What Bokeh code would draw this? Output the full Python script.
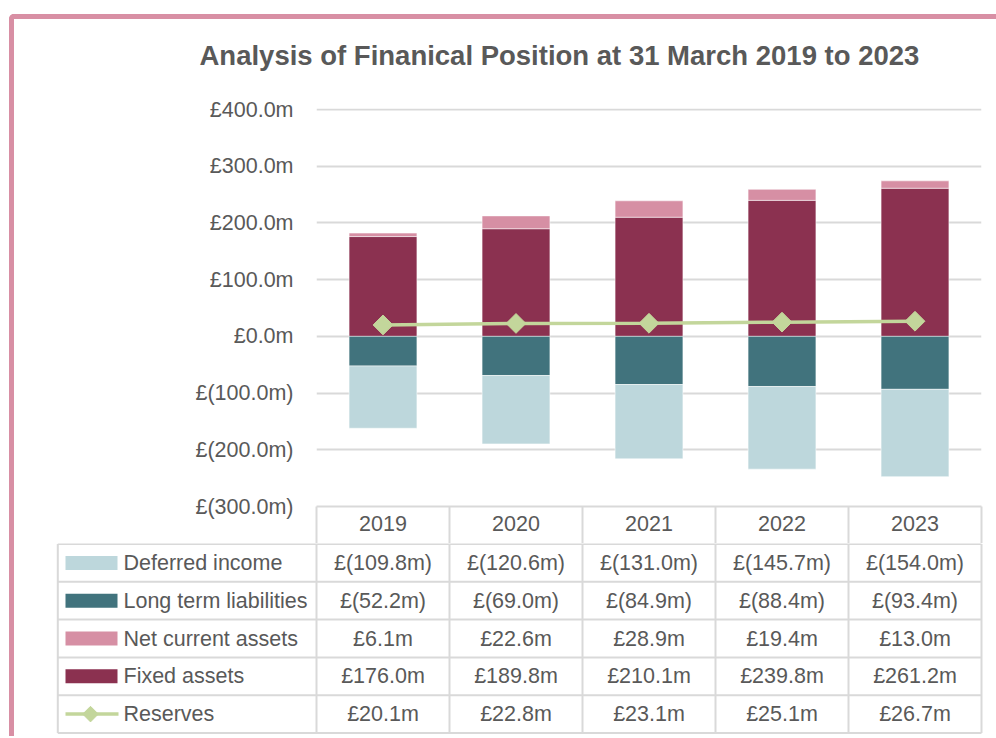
import math
from bokeh.plotting import figure
from bokeh.layouts import column
from bokeh.models import Range1d, FixedTicker
from bokeh.embed import file_html
from bokeh.resources import INLINE
from bokeh.core.properties import value

# ---------------- data ----------------
years = ["2019", "2020", "2021", "2022", "2023"]
deferred_income = [-109.8, -120.6, -131.0, -145.7, -154.0]
long_term_liabilities = [-52.2, -69.0, -84.9, -88.4, -93.4]
net_current_assets = [6.1, 22.6, 28.9, 19.4, 13.0]
fixed_assets = [176.0, 189.8, 210.1, 239.8, 261.2]
reserves = [20.1, 22.8, 23.1, 25.1, 26.7]

y_ticks = [-300, -200, -100, 0, 100, 200, 300, 400]
y_tick_labels = ["£(300.0m)", "£(200.0m)", "£(100.0m)", "£0.0m",
                 "£100.0m", "£200.0m", "£300.0m", "£400.0m"]
series_names = ["Deferred income", "Long term liabilities",
                "Net current assets", "Fixed assets", "Reserves"]
title_text = "Analysis of Finanical Position at 31 March 2019 to 2023"

# ---------------- styles ----------------
FONT = "Liberation Sans"
TXT = "#595959"
GRID = "#D9D9D9"
C_DEF = "#BDD7DC"
C_LTL = "#41737D"
C_NCA = "#D68FA4"
C_FIX = "#8B3150"
C_RES = "#C3D69B"
BORDER = "#D88FA4"
FS = "21.5px"

W = 982
H0 = 76
H1 = 448
H2 = 193
COLW = 133.0           # pixel width of one year column
FRAME_L = 316.0        # page x of first year column's left edge


def tx(px):
    """page x pixel -> table/chart x coordinate (column units)"""
    return -0.5 + (px - FRAME_L) / COLW


x = list(range(len(years)))

# ---------------- title strip ----------------
h = figure(width=W, height=H0, x_range=Range1d(0, 1), y_range=Range1d(0, 1),
           toolbar_location=None, output_backend="svg",
           min_border_left=302, min_border_right=15, min_border_top=53,
           min_border_bottom=0, x_axis_location=None, y_axis_location=None,
           frame_align=False)
h.outline_line_color = None
h.grid.visible = False
h.background_fill_color = "white"
h.border_fill_color = "white"
h.title.text = title_text
h.title.text_font = FONT
h.title.text_font_size = "27.5px"
h.title.text_font_style = "bold"
h.title.text_color = TXT
h.title.align = "left"
h.title.offset = 199 - FRAME_L
h.title.standoff = 4

# ---------------- chart ----------------
p = figure(width=W, height=H1, x_range=Range1d(-0.5, len(years) - 0.5),
           y_range=Range1d(-300, 401.8), toolbar_location=None,
           output_backend="svg", min_border_left=302, min_border_right=15,
           min_border_top=13, min_border_bottom=37, frame_align=False)
p.outline_line_color = None
p.background_fill_color = "white"
p.border_fill_color = "white"

fix_top = [f for f in fixed_assets]
nca_top = [f + n for f, n in zip(fixed_assets, net_current_assets)]
ltl_top = [l for l in long_term_liabilities]
def_top = [l + d for l, d in zip(long_term_liabilities, deferred_income)]

bar_kw = dict(width=0.51, line_color="white", line_alpha=0.5, line_width=1)
p.vbar(x=x, bottom=0, top=fix_top, fill_color=C_FIX, **bar_kw)
p.vbar(x=x, bottom=fix_top, top=nca_top, fill_color=C_NCA, **bar_kw)
p.vbar(x=x, bottom=0, top=ltl_top, fill_color=C_LTL, **bar_kw)
p.vbar(x=x, bottom=ltl_top, top=def_top, fill_color=C_DEF, **bar_kw)

p.line(x, reserves, line_color=C_RES, line_width=3.5)
p.scatter(x, reserves, marker="square", size=14, angle=math.pi / 4,
          fill_color=C_RES, line_color=C_RES)

# y axis
p.yaxis.ticker = FixedTicker(ticks=y_ticks)
p.yaxis.major_label_overrides = dict(zip(y_ticks, y_tick_labels))
p.yaxis.axis_line_color = None
p.yaxis.major_tick_line_color = None
p.yaxis.minor_tick_line_color = None
p.yaxis.major_tick_out = 0
p.yaxis.major_tick_in = 0
p.yaxis.major_label_standoff = 23
p.yaxis.major_label_text_font = FONT
p.yaxis.major_label_text_font_size = FS
p.yaxis.major_label_text_color = TXT

p.ygrid.ticker = FixedTicker(ticks=y_ticks)
p.ygrid.grid_line_color = GRID
p.ygrid.grid_line_width = 2
p.xgrid.grid_line_color = None

# x axis = header row of the data table
p.xaxis.ticker = FixedTicker(ticks=x, minor_ticks=[i - 0.5 for i in range(len(years) + 1)])
p.xaxis.major_label_overrides = dict(zip(x, years))
p.xaxis.major_tick_line_color = None
p.xaxis.major_tick_out = 0
p.xaxis.major_tick_in = 0
p.xaxis.minor_tick_out = 37
p.xaxis.minor_tick_in = 0
p.xaxis.minor_tick_line_color = GRID
p.xaxis.minor_tick_line_width = 2
p.xaxis.axis_line_color = GRID
p.xaxis.axis_line_width = 2
p.xaxis.major_label_standoff = -28
p.xaxis.major_label_text_font = FONT
p.xaxis.major_label_text_font_size = FS
p.xaxis.major_label_text_color = TXT

# ---------------- data table ----------------
RH = 37.8
OFF = 0.5
t = figure(width=W, height=H2, toolbar_location=None, output_backend="svg",
           x_range=Range1d(tx(50), tx(986)),
           y_range=Range1d((H2 - OFF) / RH, -OFF / RH),
           min_border_left=36, min_border_right=10, min_border_top=0,
           min_border_bottom=0, x_axis_location=None, y_axis_location=None,
           frame_align=False)
t.outline_line_color = None
t.grid.visible = False
t.background_fill_color = "white"
t.border_fill_color = "white"

nrows = len(series_names)
left_edge = tx(57.3)
right_edge = len(years) - 0.5
t.segment(x0=[left_edge] * (nrows + 1), x1=[right_edge] * (nrows + 1),
          y0=list(range(nrows + 1)), y1=list(range(nrows + 1)),
          line_color=GRID, line_width=2)
vx = [left_edge] + [i - 0.5 for i in range(len(years) + 1)]
t.segment(x0=vx, x1=vx, y0=[0] * len(vx), y1=[nrows] * len(vx),
          line_color=GRID, line_width=2)


def fmt(v):
    if v < 0:
        return "£({:.1f}m)".format(abs(v))
    return "£{:.1f}m".format(v)


rows = [deferred_income, long_term_liabilities, net_current_assets,
        fixed_assets, reserves]
cx, cy, ct = [], [], []
for r, vals in enumerate(rows):
    for i, v in enumerate(vals):
        cx.append(i)
        cy.append(r + 0.5)
        ct.append(fmt(v))
t.text(x=cx, y=cy, text=ct, text_align="center", text_baseline="middle",
       text_font=value(FONT), text_font_size=FS, text_color=TXT)

t.text(x=[tx(123)] * nrows, y=[r + 0.5 for r in range(nrows)], text=series_names,
       text_align="left", text_baseline="middle", text_font=value(FONT),
       text_font_size=FS, text_color=TXT)

# legend keys
t.rect(x=[tx(91)] * 4, y=[0.5, 1.5, 2.5, 3.5], width=52, height=14,
       width_units="screen", height_units="screen",
       fill_color=[C_DEF, C_LTL, C_NCA, C_FIX], line_color=None)
t.segment(x0=[tx(65)], x1=[tx(118)], y0=[4.5], y1=[4.5], line_color=C_RES, line_width=3.5)
t.scatter(x=[tx(90)], y=[4.5], marker="square", size=11, angle=math.pi / 4,
          fill_color=C_RES, line_color=C_RES)

layout = column(h, p, t, styles={"border-top": "5px solid " + BORDER,
                                 "border-left": "5px solid " + BORDER,
                                 "border-top-left-radius": "5px",
                                 "margin-top": "14px", "margin-left": "9px"})

open("out.html", "w").write(file_html(layout, INLINE))
